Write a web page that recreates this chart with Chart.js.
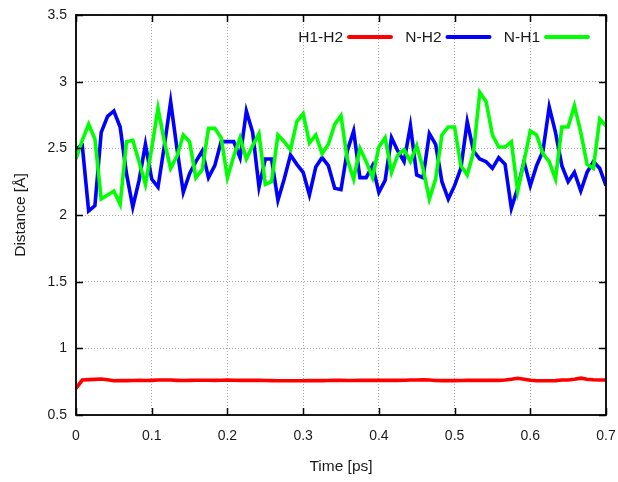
<!DOCTYPE html>
<html>
<head>
<meta charset="utf-8">
<script src="https://cdn.jsdelivr.net/npm/chart.js@4.4.1/dist/chart.umd.min.js"></script>
<style>
  html, body { margin: 0; padding: 0; background: #fff; }
  canvas { display: block; }
</style>
</head>
<body>
<canvas id="chart" width="618" height="482"></canvas>
<script>
// Time axis (ps), one sample every ~8.3 fs
var times = [
  0, 0.0083, 0.0167, 0.025, 0.0333, 0.0417, 0.05, 0.0583, 0.0667, 0.075, 0.0833, 0.0917,
  0.1, 0.1083, 0.1167, 0.125, 0.1333, 0.1417, 0.15, 0.1583, 0.1667, 0.175, 0.1833, 0.1917,
  0.2, 0.2083, 0.2167, 0.225, 0.2333, 0.2417, 0.25, 0.2583, 0.2667, 0.275, 0.2833, 0.2917,
  0.3, 0.3083, 0.3167, 0.325, 0.3333, 0.3417, 0.35, 0.3583, 0.3667, 0.375, 0.3833, 0.3917,
  0.4, 0.4083, 0.4167, 0.425, 0.4333, 0.4417, 0.45, 0.4583, 0.4667, 0.475, 0.4833, 0.4917,
  0.5, 0.5083, 0.5167, 0.525, 0.5333, 0.5417, 0.55, 0.5583, 0.5667, 0.575, 0.5833, 0.5917,
  0.6, 0.6083, 0.6167, 0.625, 0.6333, 0.6417, 0.65, 0.6583, 0.6667, 0.675, 0.6833, 0.6917,
  0.7
];

// H1-H2 distance (Å)
var h1h2 = [
  0.700, 0.762, 0.765, 0.767, 0.770, 0.764, 0.757, 0.758, 0.758, 0.759, 0.760, 0.759,
  0.760, 0.762, 0.763, 0.762, 0.760, 0.759, 0.760, 0.761, 0.761, 0.761, 0.760, 0.761,
  0.762, 0.761, 0.760, 0.760, 0.761, 0.760, 0.759, 0.758, 0.757, 0.757, 0.757, 0.757,
  0.757, 0.758, 0.758, 0.758, 0.759, 0.760, 0.760, 0.759, 0.759, 0.760, 0.760, 0.760,
  0.760, 0.761, 0.760, 0.760, 0.761, 0.762, 0.763, 0.764, 0.762, 0.759, 0.758, 0.758,
  0.758, 0.759, 0.760, 0.760, 0.760, 0.760, 0.761, 0.760, 0.762, 0.768, 0.775, 0.768,
  0.760, 0.757, 0.757, 0.757, 0.758, 0.762, 0.763, 0.768, 0.776, 0.768, 0.764, 0.762,
  0.762
];

// N-H2 distance (Å)
var nh2 = [
  2.50, 2.52, 2.03, 2.07, 2.62, 2.74, 2.78, 2.66, 2.31, 2.06, 2.26, 2.53,
  2.27, 2.21, 2.52, 2.85, 2.50, 2.17, 2.31, 2.40, 2.48, 2.28, 2.37, 2.55,
  2.55, 2.55, 2.43, 2.78, 2.62, 2.21, 2.42, 2.42, 2.11, 2.27, 2.45, 2.38,
  2.32, 2.15, 2.36, 2.43, 2.37, 2.20, 2.19, 2.48, 2.63, 2.28, 2.28, 2.37,
  2.17, 2.26, 2.58, 2.48, 2.40, 2.67, 2.30, 2.28, 2.61, 2.53, 2.25, 2.12,
  2.22, 2.35, 2.70, 2.48, 2.42, 2.40, 2.35, 2.43, 2.38, 2.05, 2.20, 2.40,
  2.22, 2.37, 2.48, 2.81, 2.62, 2.37, 2.25, 2.32, 2.18, 2.32, 2.40, 2.35,
  2.22
];

// N-H1 distance (Å)
var nh1 = [
  2.42, 2.56, 2.68, 2.57, 2.12, 2.15, 2.18, 2.08, 2.55, 2.56, 2.40, 2.23,
  2.50, 2.80, 2.55, 2.35, 2.44, 2.60, 2.55, 2.28, 2.34, 2.65, 2.65, 2.58,
  2.28, 2.44, 2.58, 2.42, 2.52, 2.61, 2.23, 2.25, 2.60, 2.55, 2.49, 2.70,
  2.76, 2.54, 2.60, 2.46, 2.53, 2.68, 2.745, 2.42, 2.27, 2.50, 2.40, 2.28,
  2.51, 2.58, 2.32, 2.45, 2.49, 2.40, 2.52, 2.35, 2.12, 2.27, 2.60, 2.66,
  2.66, 2.37, 2.30, 2.47, 2.92, 2.85, 2.60, 2.51, 2.51, 2.55, 2.18, 2.40,
  2.63, 2.60, 2.46, 2.40, 2.27, 2.66, 2.66, 2.82, 2.62, 2.38, 2.35, 2.72,
  2.67
];

var xTicks = [0, 0.1, 0.2, 0.3, 0.4, 0.5, 0.6, 0.7];
var yTicks = [0.5, 1, 1.5, 2, 2.5, 3, 3.5];

function pairs(values) {
  return values.map(function(v, i) { return { x: times[i], y: v }; });
}

var FONT = "'Liberation Sans', Arial, sans-serif";
var TEXT = "#1a1a1a";

// gnuplot-style frame, inward tick marks on all four sides, and a legend
// with the label in front of its line sample.
var framePlugin = {
  id: "frame",
  afterDraw: function(chart) {
    var ctx = chart.ctx;
    var a = chart.chartArea;
    var xs = chart.scales.x, ys = chart.scales.y;
    var len = 7;
    ctx.save();
    ctx.strokeStyle = "#000";
    ctx.lineWidth = 1.5;
    ctx.beginPath();
    xTicks.forEach(function(t) {
      var px = Math.round(xs.getPixelForValue(t)) + 0.5;
      ctx.moveTo(px, a.bottom); ctx.lineTo(px, a.bottom - len);
      ctx.moveTo(px, a.top);    ctx.lineTo(px, a.top + len);
    });
    yTicks.forEach(function(t) {
      var py = Math.round(ys.getPixelForValue(t)) + 0.5;
      ctx.moveTo(a.left, py);  ctx.lineTo(a.left + len, py);
      ctx.moveTo(a.right, py); ctx.lineTo(a.right - len, py);
    });
    ctx.stroke();
    ctx.lineWidth = 1.8;
    ctx.strokeRect(a.left, a.top, a.right - a.left, a.bottom - a.top);

    // legend, right to left
    var sets = chart.data.datasets;
    var sampleLen = 42, step = 98.5, gap = 6;
    var y = a.top + 22;
    ctx.font = "15.5px " + FONT;
    ctx.textAlign = "right";
    ctx.textBaseline = "middle";
    ctx.lineCap = "round";
    for (var i = 0; i < sets.length; i++) {
      var end = a.right - 18 - (sets.length - 1 - i) * step;
      var start = end - sampleLen;
      ctx.fillStyle = TEXT;
      ctx.fillText(sets[i].label, start - gap, y + 1);
      ctx.strokeStyle = sets[i].borderColor;
      ctx.lineWidth = 4;
      ctx.beginPath();
      ctx.moveTo(start, y);
      ctx.lineTo(end, y);
      ctx.stroke();
    }
    ctx.restore();
  }
};

var lineStyle = { borderWidth: 3.6, pointRadius: 0, tension: 0, fill: false };

new Chart(document.getElementById("chart"), {
  type: "line",
  data: {
    datasets: [
      Object.assign({ label: "H1-H2", data: pairs(h1h2), borderColor: "#ff0000", order: 2 }, lineStyle),
      Object.assign({ label: "N-H2",  data: pairs(nh2),  borderColor: "#0000ff", order: 1 }, lineStyle),
      Object.assign({ label: "N-H1",  data: pairs(nh1),  borderColor: "#00ff00", order: 0 }, lineStyle)
    ]
  },
  options: {
    responsive: false,
    animation: false,
    devicePixelRatio: 1,
    layout: { padding: { top: 15, right: 12, left: 0, bottom: 0 } },
    plugins: {
      legend: { display: false },
      tooltip: { enabled: false }
    },
    scales: {
      x: {
        type: "linear",
        min: 0,
        max: 0.7,
        // keep the plot box fixed: no extra room for the outer tick labels
        afterFit: function(s) { s.height = 67; s.paddingLeft = 0; s.paddingRight = 0; },
        afterBuildTicks: function(s) { s.ticks = xTicks.map(function(v) { return { value: v }; }); },
        ticks: {
          padding: 13,
          color: TEXT,
          font: { family: FONT, size: 14 },
          maxRotation: 0,
          callback: function(v) { return String(+v.toFixed(1)); }
        },
        grid: { color: "#a8a8a8", lineWidth: 1, drawTicks: false },
        border: { display: false, dash: [1, 2] },
        title: {
          display: true,
          text: "Time [ps]",
          color: TEXT,
          font: { family: FONT, size: 15.5 },
          padding: { top: 0, bottom: 6 }
        }
      },
      y: {
        min: 0.5,
        max: 3.5,
        afterFit: function(s) { s.width = 76; s.paddingTop = 0; s.paddingBottom = 0; },
        afterBuildTicks: function(s) { s.ticks = yTicks.map(function(v) { return { value: v }; }); },
        ticks: {
          padding: 9,
          color: TEXT,
          font: { family: FONT, size: 14 },
          callback: function(v) { return String(+v.toFixed(1)); }
        },
        grid: { color: "#a8a8a8", lineWidth: 1, drawTicks: false },
        border: { display: false, dash: [1, 2] },
        title: {
          display: true,
          text: "Distance [Å]",
          color: TEXT,
          font: { family: FONT, size: 15.5 },
          padding: { top: 11, bottom: 0 }
        }
      }
    }
  },
  plugins: [framePlugin]
});
</script>
</body>
</html>
